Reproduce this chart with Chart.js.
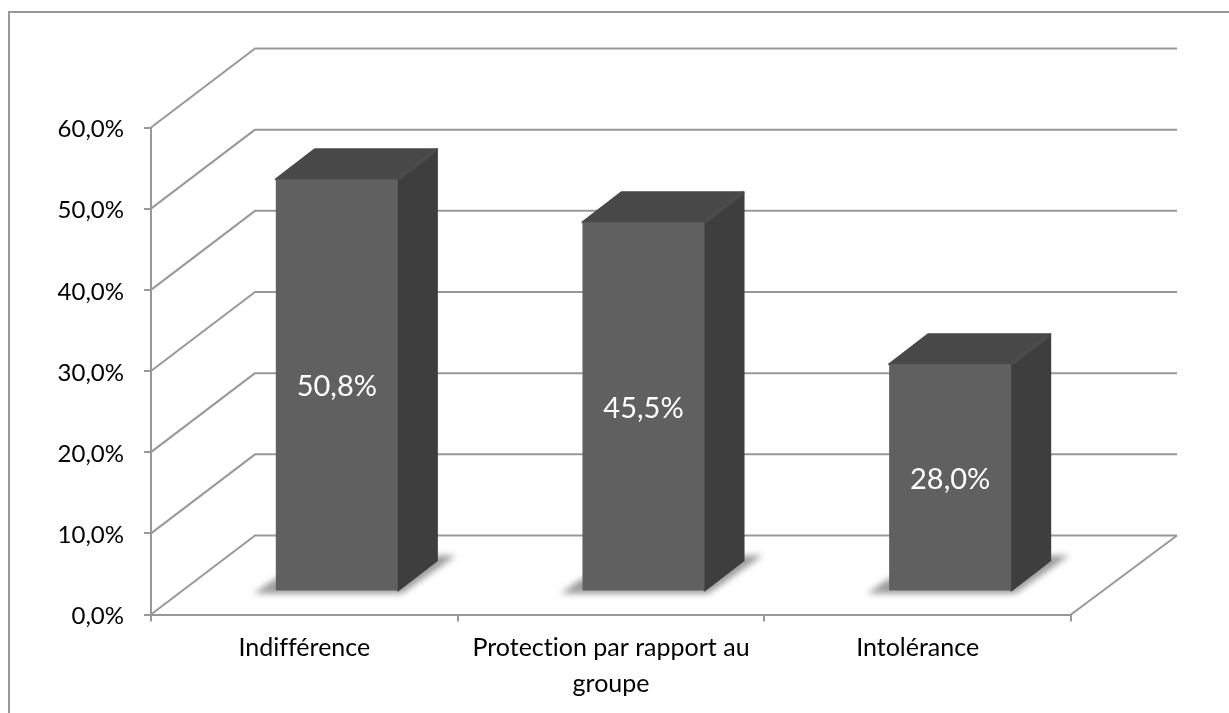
<!DOCTYPE html>
<html>
<head>
<meta charset="utf-8">
<title>Indifférence, protection, intolérance</title>
<script src="https://cdn.jsdelivr.net/npm/chart.js@4/dist/chart.umd.min.js"></script>
<style>
  html, body { margin: 0; background: #fff; overflow: hidden; }
  canvas { display: block; }
</style>
</head>
<body>
<canvas id="chart" width="1229" height="713"></canvas>
<script>
// Chart values
const categories = ['Indifférence', ['Protection par rapport au', 'groupe'], 'Intolérance'];
const shares = [50.8, 45.5, 28.0];
const axisMax = 60;
const axisStep = 10;

// Perspective offsets for the fake 3D box
const wallDepthX = 104;
const wallDepthY = 79;
const barShiftX = 32.5;
const barShiftY = 23;
const barDepthX = 39;
const barDepthY = 30;

const lineGrey = '#989898';
const fontName = 'Lato, Carlito, Calibri, sans-serif';

function percentText(v) {
  return v.toFixed(1).replace('.', ',') + '%';
}

function polygon(ctx, pts, fill) {
  ctx.beginPath();
  pts.forEach((p, i) => i ? ctx.lineTo(p[0], p[1]) : ctx.moveTo(p[0], p[1]));
  ctx.closePath();
  ctx.fillStyle = fill;
  ctx.fill();
}

// Same as polygon, with a thin outline so the corners come out rounded
function softFace(ctx, pts, fill) {
  polygon(ctx, pts, fill);
  ctx.strokeStyle = fill;
  ctx.lineWidth = 2;
  ctx.lineJoin = 'round';
  ctx.stroke();
}

// Draws frame, back walls, side and top faces of the bars, and the text on top
const box3d = {
  id: 'box3d',
  beforeDraw(chart) {
    const ctx = chart.ctx;
    // no ligatures in the labels
    ctx.textRendering = 'optimizeSpeed';
    ctx.save();
    ctx.strokeStyle = lineGrey;
    ctx.lineWidth = 2;
    // only the top and left sides of the frame are visible
    ctx.beginPath();
    ctx.moveTo(9, 713);
    ctx.lineTo(9, 12);
    ctx.lineTo(1229, 12);
    ctx.stroke();
    ctx.restore();
  },
  beforeDatasetsDraw(chart) {
    const ctx = chart.ctx;
    const { left, right, bottom } = chart.chartArea;
    const y = chart.scales.y;

    ctx.save();
    ctx.strokeStyle = lineGrey;
    ctx.lineWidth = 2;
    ctx.lineJoin = 'round';
    y.ticks.forEach(t => {
      const py = y.getPixelForValue(t.value);
      ctx.beginPath();
      ctx.moveTo(left, py);
      ctx.lineTo(left + wallDepthX, py - wallDepthY);
      ctx.lineTo(right + wallDepthX + 2, py - wallDepthY);
      ctx.stroke();
    });
    // right edge of the floor
    ctx.beginPath();
    ctx.moveTo(right, bottom);
    ctx.lineTo(right + wallDepthX + 2, bottom - wallDepthY);
    ctx.stroke();
    ctx.restore();

    const bars = chart.getDatasetMeta(0).data;
    bars.forEach(bar => {
      const x0 = bar.x - bar.width / 2 + barShiftX;
      const x1 = bar.x + bar.width / 2 + barShiftX;
      const top = bar.y - barShiftY;
      const base = bar.base - barShiftY;

      // floor shadow
      ctx.save();
      ctx.filter = 'blur(3px)';
      polygon(ctx, [
        [x0 - 22, base + 3], [x0, base - 12], [x1, base - 12],
        [x1 + barDepthX, base - barDepthY - 5], [x1 + barDepthX + 19, base - barDepthY - 5], [x1 + 4, base + 3]
      ], '#9a9a9a');
      ctx.restore();

      // right face
      softFace(ctx, [
        [x1, top], [x1 + barDepthX, top - barDepthY],
        [x1 + barDepthX, base - barDepthY], [x1, base]
      ], '#3e3e3e');
      // top face
      softFace(ctx, [
        [x0, top], [x0 + barDepthX, top - barDepthY],
        [x1 + barDepthX, top - barDepthY], [x1, top]
      ], '#484848');
      // bevel along the shared edge of top and right faces
      ctx.save();
      ctx.strokeStyle = '#4e4e4e';
      ctx.lineWidth = 3;
      ctx.filter = 'blur(1px)';
      ctx.beginPath();
      ctx.moveTo(x1 + 1, top - 1);
      ctx.lineTo(x1 + barDepthX - 1, top - barDepthY + 1);
      ctx.stroke();
      ctx.restore();
    });

    // the library draws the front faces on the shifted plane
    ctx.save();
    ctx.translate(barShiftX, -barShiftY);
  },
  afterDatasetsDraw(chart) {
    const ctx = chart.ctx;
    ctx.restore();

    const bars = chart.getDatasetMeta(0).data;
    ctx.save();
    ctx.font = '29px ' + fontName;
    ctx.fillStyle = '#ffffff';
    ctx.textAlign = 'center';
    ctx.textBaseline = 'middle';
    bars.forEach((bar, i) => {
      const midY = (bar.y + bar.base) / 2 - barShiftY;
      ctx.fillText(percentText(shares[i]), bar.x + barShiftX, midY + 2);
    });
    ctx.restore();
  },
  afterDraw(chart) {
    // y tick labels sit slightly below their tick marks
    const ctx = chart.ctx;
    const y = chart.scales.y;
    ctx.save();
    ctx.font = '24px ' + fontName;
    ctx.fillStyle = '#000000';
    ctx.textAlign = 'right';
    ctx.textBaseline = 'middle';
    y.ticks.forEach(t => {
      ctx.fillText(percentText(t.value), chart.chartArea.left - 27, y.getPixelForValue(t.value) + 2);
    });
    ctx.restore();
  }
};

new Chart(document.getElementById('chart').getContext('2d'), {
  type: 'bar',
  data: {
    labels: categories,
    datasets: [{
      data: shares,
      backgroundColor: '#606060',
      borderWidth: 0,
      barPercentage: 0.398,
      categoryPercentage: 1
    }]
  },
  plugins: [box3d],
  options: {
    responsive: false,
    animation: false,
    layout: { padding: { top: 127.5, right: 158 } },
    plugins: {
      legend: { display: false },
      tooltip: { enabled: false }
    },
    scales: {
      x: {
        afterFit(scale) { scale.height = 98.5; },
        border: { color: lineGrey, width: 2 },
        grid: { drawOnChartArea: false, color: lineGrey, lineWidth: 2, tickLength: 7 },
        ticks: {
          color: '#000000',
          padding: 9,
          maxRotation: 0,
          autoSkip: false,
          font: { family: fontName, size: 25, lineHeight: 1.42 }
        }
      },
      y: {
        min: 0,
        max: axisMax,
        afterFit(scale) { scale.width = 151; },
        border: { color: lineGrey, width: 2 },
        grid: { drawOnChartArea: false, color: lineGrey, lineWidth: 2, tickLength: 7 },
        ticks: {
          stepSize: axisStep,
          display: false
        }
      }
    }
  }
});
</script>
</body>
</html>
